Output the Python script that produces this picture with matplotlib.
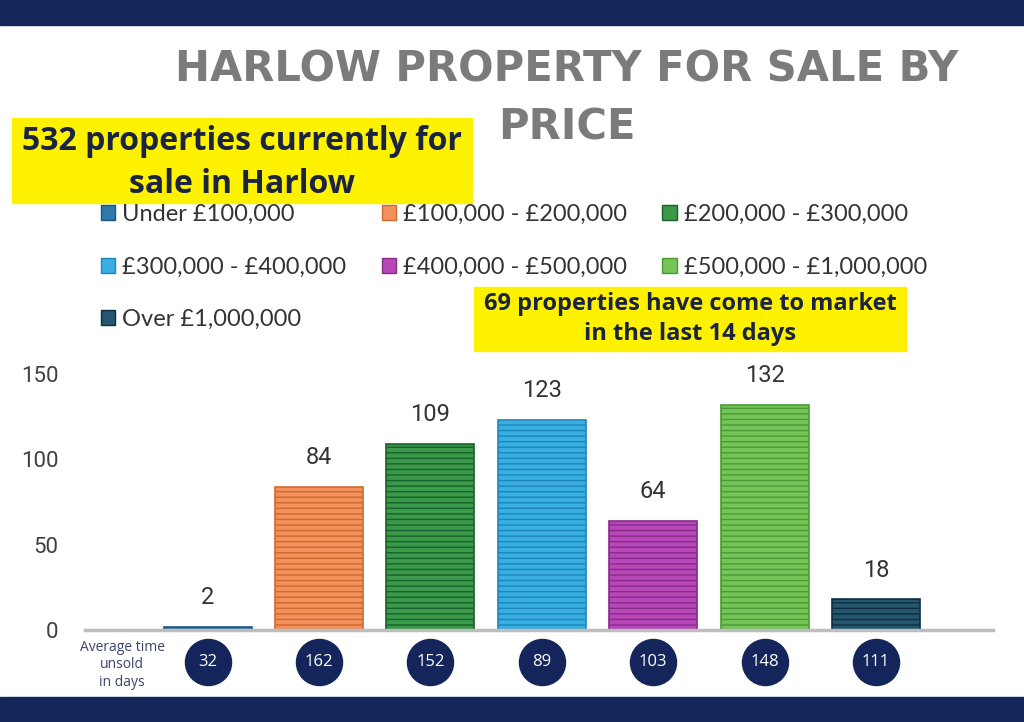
import matplotlib.pyplot as plt
from matplotlib.patches import Rectangle, Patch

# Datos
categorias = ['Under £100,000', '£100,000 - £200,000', '£200,000 - £300,000',
              '£300,000 - £400,000', '£400,000 - £500,000', '£500,000 - £1,000,000',
              'Over £1,000,000']
cantidad = [2, 84, 109, 123, 64, 132, 18]
dias_sin_vender = [32, 162, 152, 89, 103, 148, 111]
colores = ['#2f78a8', '#f2915c', '#3a9a4a', '#38aee2', '#b848ba', '#74c458', '#24566e']
bordes = ['#1d5580', '#d0682f', '#17612a', '#1e86bb', '#862a88', '#4c9a35', '#0f2f40']
y_ticks = [0, 50, 100, 150]

navy = '#13255a'
texto_oscuro = '#1a2340'

plt.rcParams['hatch.linewidth'] = 1.0

fig = plt.figure(figsize=(10.24, 7.22), dpi=100)
fig.patch.set_facecolor('white')

# Bandas azul marino arriba y abajo
fig.add_artist(Rectangle((0, 1 - 25 / 722), 1, 25 / 722, transform=fig.transFigure,
                         color=navy, zorder=0))
fig.add_artist(Rectangle((0, 0), 1, 25 / 722, transform=fig.transFigure,
                         color=navy, zorder=0))

ax = fig.add_axes([85 / 1024, 92 / 722, 908 / 1024, 256 / 722])
x = list(range(len(categorias)))
barras = ax.bar(x, cantidad, width=0.79, color=colores, edgecolor=bordes,
                linewidth=1.2, hatch='---', zorder=2)

for xi, v in zip(x, cantidad):
    ax.annotate(str(v), (xi, v), xytext=(0, 21), textcoords='offset points',
                ha='center', va='center', fontsize=17, color='#333333',
                family='Roboto')

ax.set_xlim(-1.1, 7.05)
ax.set_ylim(0, 150)
ax.set_yticks(y_ticks)
ax.set_xticks([])
ax.tick_params(axis='y', length=0, pad=19, labelsize=16, labelcolor='#404040')
for lbl in ax.get_yticklabels():
    lbl.set_family('Roboto')
for s in ['top', 'right', 'left']:
    ax.spines[s].set_visible(False)
ax.spines['bottom'].set_color('#bdbdbd')
ax.spines['bottom'].set_linewidth(2.5)

# Circulos con el tiempo medio sin vender
tr = ax.get_xaxis_transform()
ax.scatter(x, [-0.125] * len(x), s=1100, color=navy, transform=tr, clip_on=False, zorder=3)
for xi, d in zip(x, dias_sin_vender):
    ax.text(xi, -0.125, str(d), transform=tr, ha='center', va='center',
            color='white', fontsize=12, family='Open Sans', zorder=4)
fig.text(122 / 1024, 1 - 665 / 722, 'Average time\nunsold\nin days', ha='center',
         va='center', fontsize=10, color='#3a4466', family='Open Sans', linespacing=1.25)

# Leyenda (orden por filas como en la original)
handles = [Patch(facecolor=c, edgecolor=b, label=l) for c, b, l in zip(colores, bordes, categorias)]
orden = [0, 3, 6, 1, 4, 2, 5]
fig.legend(handles=[handles[i] for i in orden], ncol=3, loc='upper left',
           bbox_to_anchor=(101 / 1024, 1 - 204 / 722), borderaxespad=0, borderpad=0,
           frameon=False, prop={'family': 'Lato', 'size': 17}, labelcolor='#333333',
           handlelength=0.6, handleheight=0.6, handletextpad=0.3, columnspacing=1.5,
           labelspacing=1.33)

# Titulo
fig.text(567 / 1024, 1 - 69 / 722, 'HARLOW PROPERTY FOR SALE BY', ha='center',
         va='center', fontsize=30, fontweight='bold', color='#7b7b7b', family='DejaVu Sans')
fig.text(567 / 1024, 1 - 127 / 722, 'PRICE', ha='center',
         va='center', fontsize=30, fontweight='bold', color='#7b7b7b', family='DejaVu Sans')

# Cajas amarillas
fig.add_artist(Rectangle((12 / 1024, 1 - 203 / 722), 460 / 1024, 85 / 722,
                         transform=fig.transFigure, color='#fff200', zorder=1))
fig.text(242 / 1024, 1 - 163 / 722, '532 properties currently for\nsale in Harlow',
         ha='center', va='center', fontsize=23, fontweight='bold', color=texto_oscuro,
         family='Open Sans', linespacing=1.4, zorder=2)
fig.add_artist(Rectangle((474 / 1024, 1 - 351 / 722), 432 / 1024, 64 / 722,
                         transform=fig.transFigure, color='#fff200', zorder=1))
fig.text(690 / 1024, 1 - 319 / 722, '69 properties have come to market\nin the last 14 days',
         ha='center', va='center', fontsize=17, fontweight='bold', color=texto_oscuro,
         family='Open Sans', linespacing=1.35, zorder=2)

fig.savefig('out.png', dpi=100)
